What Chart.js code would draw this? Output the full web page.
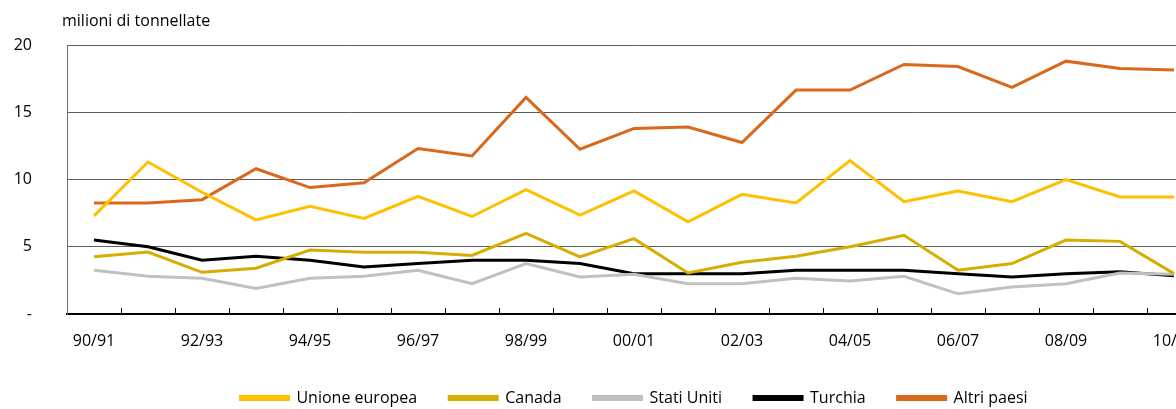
<!DOCTYPE html>
<html>
<head>
  <title>Grano duro - importazioni</title>
  <script src="https://cdn.jsdelivr.net/npm/chart.js"></script>
  <style>
    html, body { margin: 0; padding: 0; background: #fff; overflow: hidden; }
    #wrap { width: 1176px; height: 409px; overflow: hidden; position: relative; }
    #chart { display: block; }
  </style>
</head>
<body>
<div id="wrap">
  <canvas id="chart" width="1205" height="416" style="width:1205px;height:416px"></canvas>
</div>
<script>
  // campagne di commercializzazione
  const campagne = ['90/91', '91/92', '92/93', '93/94', '94/95', '95/96', '96/97', '97/98', '98/99', '99/00',
    '00/01', '01/02', '02/03', '03/04', '04/05', '05/06', '06/07', '07/08', '08/09', '09/10', '10/11'];

  // milioni di tonnellate
  const unioneEuropea = [7.3, 11.3, 9.05, 7.0, 8.0, 7.1, 8.75, 7.25, 9.25, 7.35, 9.15, 6.85, 8.9, 8.25, 11.4, 8.35, 9.15, 8.35, 10.0, 8.7, 8.7];
  const canada = [4.25, 4.6, 3.1, 3.4, 4.75, 4.6, 4.6, 4.35, 6.0, 4.25, 5.6, 3.05, 3.85, 4.3, 5.0, 5.85, 3.25, 3.75, 5.5, 5.4, 3.0];
  const statiUniti = [3.25, 2.8, 2.65, 1.9, 2.65, 2.8, 3.25, 2.25, 3.75, 2.75, 2.95, 2.25, 2.25, 2.65, 2.45, 2.8, 1.5, 2.0, 2.25, 3.05, 2.95];
  const turchia = [5.5, 5.0, 4.0, 4.3, 4.0, 3.5, 3.75, 4.0, 4.0, 3.75, 3.0, 3.0, 3.0, 3.25, 3.25, 3.25, 3.0, 2.75, 3.0, 3.15, 2.85];
  const altriPaesi = [8.25, 8.25, 8.5, 10.8, 9.4, 9.75, 12.3, 11.75, 16.1, 12.25, 13.8, 13.9, 12.75, 16.65, 16.65, 18.55, 18.4, 16.85, 18.8, 18.25, 18.15];

  const yTicks = [0, 5, 10, 15, 20];

  function serie(label, data, color) {
    return {
      label: label,
      data: data,
      borderColor: color,
      backgroundColor: color,
      borderWidth: 3,
      pointRadius: 0,
      tension: 0
    };
  }

  // testo dell'unità sopra l'asse y
  const unitLabel = {
    id: 'unitLabel',
    afterDraw(chart) {
      const ctx = chart.ctx;
      ctx.save();
      ctx.font = '16px "Open Sans"';
      ctx.fillStyle = '#000';
      ctx.textBaseline = 'middle';
      ctx.textAlign = 'left';
      ctx.fillText('milioni di tonnellate', chart.chartArea.left - 5, 21);
      ctx.restore();
    }
  };

  new Chart(document.getElementById('chart').getContext('2d'), {
    type: 'line',
    data: {
      labels: campagne,
      datasets: [
        serie('Unione europea', unioneEuropea, '#FFC000'),
        serie('Canada', canada, '#D6AD00'),
        serie('Stati Uniti', statiUniti, '#C0C0C0'),
        serie('Turchia', turchia, '#000000'),
        serie('Altri paesi', altriPaesi, '#D9681A')
      ]
    },
    options: {
      responsive: false,
      animation: false,
      layout: { padding: { left: 10, top: 45, right: 4, bottom: 0 } },
      plugins: {
        tooltip: { enabled: false },
        legend: {
          position: 'bottom',
          fullSize: false,
          labels: {
            boxWidth: 48,
            boxHeight: 3,
            padding: 32,
            color: '#000',
            font: { family: 'Open Sans', size: 16 }
          }
        }
      },
      scales: {
        x: {
          offset: true,
          afterFit: s => { s.height = 44; },
          grid: { offset: true, drawOnChartArea: false, tickLength: -6, color: '#000', lineWidth: 1 },
          border: { color: '#000', width: 2 },
          ticks: {
            autoSkip: false,
            maxRotation: 0,
            padding: 0,
            color: '#000',
            font: { family: 'Open Sans', size: 16, lineHeight: '66px' },
            callback: function (v, i) { return i % 2 === 0 ? this.getLabelForValue(v) : ''; }
          }
        },
        y: {
          min: 0,
          max: 20,
          afterBuildTicks: s => { s.ticks = yTicks.map(v => ({ value: v })); },
          afterFit: s => { s.width = 57; },
          grid: { color: '#5E5E5E', lineWidth: 1, drawTicks: false },
          border: { color: '#6E6E6E', width: 1 },
          ticks: {
            padding: 35,
            color: '#000',
            font: { family: 'Open Sans', size: 16 },
            callback: v => v === 0 ? '-' : v
          }
        }
      }
    },
    plugins: [unitLabel]
  });
</script>
</body>
</html>
